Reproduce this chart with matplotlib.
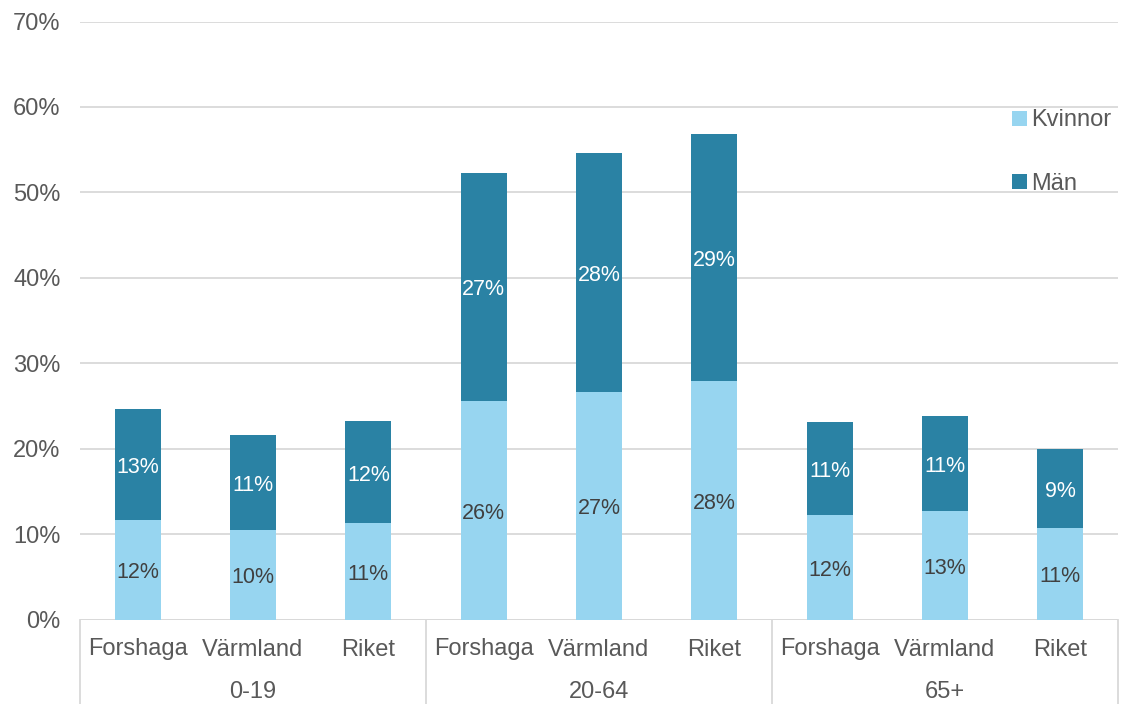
import matplotlib
matplotlib.use("Agg")
import matplotlib.pyplot as plt
import matplotlib.transforms as mtransforms
from matplotlib.patches import Patch
from matplotlib.ticker import FuncFormatter

plt.rcParams['font.family'] = ['Liberation Sans', 'DejaVu Sans']

groups = ["0-19", "20-64", "65+"]
regions = ["Forshaga", "Värmland", "Riket"]
kvinnor = [11.7, 10.45, 11.25, 25.6, 26.6, 27.9, 12.2, 12.7, 10.7]
man = [12.9, 11.2, 12.0, 26.7, 28.0, 28.9, 10.9, 11.1, 9.2]
yticks = [0, 10, 20, 30, 40, 50, 60, 70]

c_kv = "#97D5F0"
c_man = "#2A82A4"
txt = "#595959"
grid = "#D9D9D9"

fig = plt.figure(figsize=(11.26, 7.04), dpi=100)
ax = fig.add_axes([80 / 1126, 84.5 / 704, 1038 / 1126, 598 / 704])

n = len(groups) * len(regions)
x = list(range(n))
ax.bar(x, kvinnor, width=0.4, color=c_kv, zorder=3)
ax.bar(x, man, width=0.4, bottom=kvinnor, color=c_man, zorder=3)

for i in x:
    ax.text(i, kvinnor[i] / 2 - 0.35, f"{kvinnor[i]:.0f}%", ha="center", va="center",
            fontsize=15.5, color="#404040", zorder=4)
    ax.text(i, kvinnor[i] + man[i] / 2 - 0.35, f"{man[i]:.0f}%", ha="center", va="center",
            fontsize=15.5, color="white", zorder=4)

ax.set_xlim(-0.5, n - 0.5)
ax.set_ylim(0, 70)
ax.set_yticks(yticks)
ax.yaxis.set_major_formatter(FuncFormatter(lambda v, p: f"{v:.0f}%"))
ax.tick_params(axis="y", length=0, pad=14, labelsize=17, labelcolor=txt)
ax.tick_params(axis="x", length=0, labelbottom=False)
ax.grid(axis="y", color=grid, linewidth=1.3, zorder=0)
for s in ax.spines.values():
    s.set_visible(False)
ax.axhline(0, color=grid, linewidth=1.3, zorder=2)

# Two-level category axis
trans = mtransforms.blended_transform_factory(ax.transData, ax.transAxes)
fig_h = 84.5 / 598
for i in x:
    ax.text(i, -30 / 598, regions[i % len(regions)], transform=trans,
            ha="center", va="center", fontsize=17, color=txt, clip_on=False)
for g, name in enumerate(groups):
    center = g * len(regions) + (len(regions) - 1) / 2
    ax.text(center, -72 / 598, name, transform=trans, ha="center", va="center",
            fontsize=17, color=txt, clip_on=False)
for b in range(len(groups) + 1):
    xb = b * len(regions) - 0.5
    ax.plot([xb, xb], [0, -fig_h], transform=trans, color=grid,
            linewidth=1.3, clip_on=False)

handles = [Patch(facecolor=c_kv, label="Kvinnor"), Patch(facecolor=c_man, label="Män")]
leg = fig.legend(handles=handles, loc="upper left", bbox_to_anchor=(1003 / 1126, 1 - 100 / 704),
                 frameon=False, fontsize=17, handlelength=0.6, handleheight=0.6,
                 handletextpad=0.2, labelspacing=1.75, borderaxespad=0)
for t in leg.get_texts():
    t.set_color(txt)

fig.savefig("out.png", dpi=100, facecolor="white")
